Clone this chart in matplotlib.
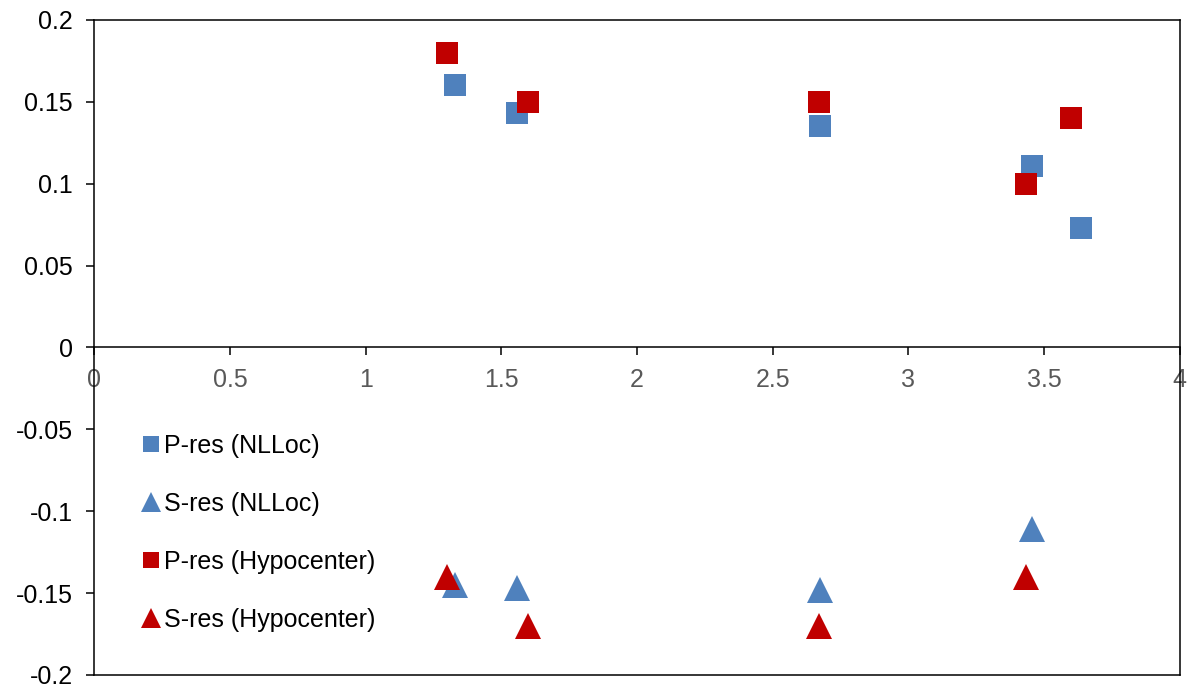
import matplotlib.pyplot as plt

plt.rcParams['font.family'] = ['Liberation Sans', 'DejaVu Sans']

# distances / residuals
p_nlloc_x = [1.33, 1.557, 2.674, 3.456, 3.637]
p_nlloc_y = [0.160, 0.143, 0.135, 0.111, 0.073]
s_nlloc_x = [1.33, 1.557, 2.674, 3.456]
s_nlloc_y = [-0.145, -0.147, -0.148, -0.111]
p_hypo_x = [1.30, 1.599, 2.672, 3.433, 3.601]
p_hypo_y = [0.180, 0.150, 0.150, 0.100, 0.140]
s_hypo_x = [1.30, 1.599, 2.672, 3.433]
s_hypo_y = [-0.140, -0.170, -0.170, -0.140]

blue = '#4F81BD'
red = '#C00000'
fs = 18

fig = plt.figure(figsize=(11.88, 6.91), dpi=100)
ax = fig.add_axes([0.0795, 0.0232, 0.9135, 0.948])

ax.plot(p_nlloc_x, p_nlloc_y, 's', color=blue, ms=15.8, mew=0, label='P-res (NLLoc)')
ax.plot(s_nlloc_x, s_nlloc_y, '^', color=blue, ms=18.5, mew=0, label='S-res (NLLoc)')
ax.plot(p_hypo_x, p_hypo_y, 's', color=red, ms=15.8, mew=0, label='P-res (Hypocenter)')
ax.plot(s_hypo_x, s_hypo_y, '^', color=red, ms=18.5, mew=0, label='S-res (Hypocenter)')

ax.set_xlim(0, 4)
ax.set_ylim(-0.2, 0.2)
ax.set_xticks([0, 0.5, 1, 1.5, 2, 2.5, 3, 3.5, 4])
ax.set_xticklabels(['0', '0.5', '1', '1.5', '2', '2.5', '3', '3.5', '4'])
ax.set_yticks([-0.2, -0.15, -0.1, -0.05, 0, 0.05, 0.1, 0.15, 0.2])
ax.set_yticklabels(['-0.2', '-0.15', '-0.1', '-0.05', '0', '0.05', '0.1', '0.15', '0.2'])

ax.spines['bottom'].set_position(('data', 0))
for s in ax.spines.values():
    s.set_linewidth(1.1)
    s.set_color('black')
# lower edge of the plot-area box
ax.axhline(-0.2, color='black', lw=1.1, clip_on=False)

ax.tick_params(axis='x', direction='out', length=5.5, width=1.1, pad=9,
               labelsize=fs, labelcolor='#595959')
ax.tick_params(axis='y', direction='out', length=5.5, width=1.1, pad=10,
               labelsize=fs, labelcolor='black')

ax.legend(loc='upper left', bbox_to_anchor=(0.034, 0.387), frameon=False,
          fontsize=fs, markerscale=0.76, handlelength=0.6, handletextpad=0.22,
          labelspacing=1.36, borderpad=0)

fig.savefig('out.png', dpi=100)
